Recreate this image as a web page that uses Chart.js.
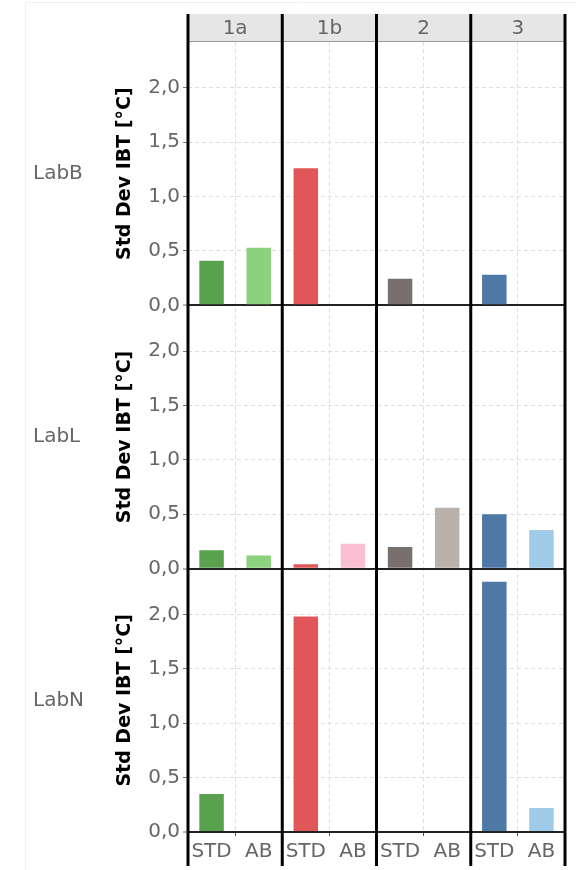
<!DOCTYPE html>
<html>
<head>
<meta charset="utf-8">
<title>Std Dev IBT</title>
<script src="https://cdn.jsdelivr.net/npm/chart.js@4.4.1/dist/chart.umd.min.js"></script>
<style>
  body { margin: 0; background: #fff; }
  canvas { display: block; }
</style>
</head>
<body>
<canvas id="chart" width="576" height="870"></canvas>
<script>
// panel columns, the two bar types inside each column, and the lab rows
const columns = ['1a', '1b', '2', '3'];
const methods = ['STD', 'AB'];
const labs = ['LabB', 'LabL', 'LabN'];

// std dev of IBT in °C, ordered 1a STD, 1a AB, 1b STD, 1b AB, ... (null = no bar)
const labB = [0.41, 0.53, 1.26, null, 0.245, null, 0.28, null];
const labL = [0.17, 0.12, 0.04, 0.23, 0.20, 0.56, 0.50, 0.355];
const labN = [0.35, null, 1.98, null, null, null, 2.30, 0.22];

// value axis
const yMax = 2.42;
const yStep = 0.5;

const barColors = ['#59a14f', '#8cd17d', '#e15759', '#fabfd2',
                   '#79706e', '#bab0ac', '#4e79a7', '#a0cbe8'];

const FONT = 'DejaVu Sans';
const GREY = '#666';

const labels = columns.flatMap(() => methods);
const rows = [labB, labL, labN];
const axisIds = ['yB', 'yL', 'yN'];

const isZero = c => c.tick && c.tick.value === 0;

function rowAxis() {
  return {
    type: 'linear',
    position: 'left',
    stack: 'labs',
    stackWeight: 1,
    min: 0,
    max: yMax,
    afterFit: s => { s.width = 74; },
    title: {
      display: true,
      text: 'Std Dev IBT [°C]',
      color: '#000',
      font: { family: FONT, size: 19, weight: 'bold' },
      padding: 0
    },
    ticks: {
      stepSize: yStep,
      includeBounds: false,
      color: GREY,
      padding: 3,
      font: { family: FONT, size: 20 },
      callback: v => v.toFixed(1).replace('.', ',')
    },
    grid: {
      color: c => isZero(c) ? '#222' : '#dedede',
      lineWidth: c => isZero(c) ? 2 : 1,
      tickLength: 5,
      tickColor: '#777',
      tickWidth: 1
    },
    border: { display: false, dash: c => isZero(c) ? [] : [4, 3] }
  };
}

// header strip, lab names and the heavy column separators
const panelFrame = {
  id: 'panelFrame',
  afterDraw(chart) {
    const { ctx, chartArea, scales } = chart;
    const x = scales.x;
    const step = x.getPixelForValue(1) - x.getPixelForValue(0);
    const edge = i => x.getPixelForValue(i * methods.length) - step / 2;
    const top = 14, bottom = 866;

    ctx.save();
    ctx.strokeStyle = '#f0f0f0';
    ctx.lineWidth = 1;
    ctx.beginPath();
    ctx.moveTo(25.5, 870);
    ctx.lineTo(25.5, 2.5);
    ctx.lineTo(576, 2.5);
    ctx.stroke();

    ctx.fillStyle = '#e6e6e6';
    ctx.fillRect(edge(0), top, edge(columns.length) - edge(0), chartArea.top - top);
    ctx.strokeStyle = '#9a9a9a';
    ctx.beginPath();
    ctx.moveTo(edge(0), chartArea.top - 0.5);
    ctx.lineTo(edge(columns.length), chartArea.top - 0.5);
    ctx.stroke();

    ctx.fillStyle = GREY;
    ctx.font = '20px ' + FONT;
    ctx.textAlign = 'center';
    ctx.textBaseline = 'middle';
    columns.forEach((c, i) => {
      ctx.fillText(c, (edge(i) + edge(i + 1)) / 2, (top + chartArea.top) / 2 + 1);
    });

    ctx.textAlign = 'left';
    labs.forEach((lab, i) => {
      const s = scales[axisIds[i]];
      ctx.fillText(lab, 33, (s.top + s.bottom) / 2);
    });

    ctx.strokeStyle = '#000';
    ctx.lineWidth = 3;
    for (let i = 0; i <= columns.length; i++) {
      const px = edge(i);
      ctx.beginPath();
      ctx.moveTo(px, top);
      ctx.lineTo(px, bottom);
      ctx.stroke();
    }
    ctx.restore();
  }
};

const scales = {
  x: {
    type: 'category',
    labels: labels,
    offset: true,
    afterFit: s => { s.height = 38; },
    grid: {
      offset: true,
      color: c => c.index % 2 === 1 ? '#dedede' : 'rgba(0,0,0,0)',
      lineWidth: 1,
      tickLength: 4,
      tickColor: c => c.index % 2 === 1 ? '#555' : 'rgba(0,0,0,0)'
    },
    border: { display: false, dash: [4, 3] },
    ticks: {
      color: GREY,
      padding: 4,
      maxRotation: 0,
      autoSkip: false,
      font: { family: FONT, size: 20 }
    }
  }
};
// stacked left axes are laid out last-defined first, so add them bottom row first
axisIds.slice().reverse().forEach(id => { scales[id] = rowAxis(); });

new Chart(document.getElementById('chart'), {
  type: 'bar',
  data: {
    labels: labels,
    datasets: rows.map((data, i) => ({
      label: labs[i],
      data: data,
      yAxisID: axisIds[i],
      backgroundColor: barColors,
      borderWidth: 0,
      grouped: false,
      categoryPercentage: 1,
      barPercentage: 0.52
    }))
  },
  options: {
    responsive: false,
    devicePixelRatio: 1,
    animation: false,
    layout: { padding: { left: 114, right: 11, top: 42, bottom: 0 } },
    plugins: { legend: { display: false }, tooltip: { enabled: false } },
    scales: scales
  },
  plugins: [panelFrame]
});
</script>
</body>
</html>
